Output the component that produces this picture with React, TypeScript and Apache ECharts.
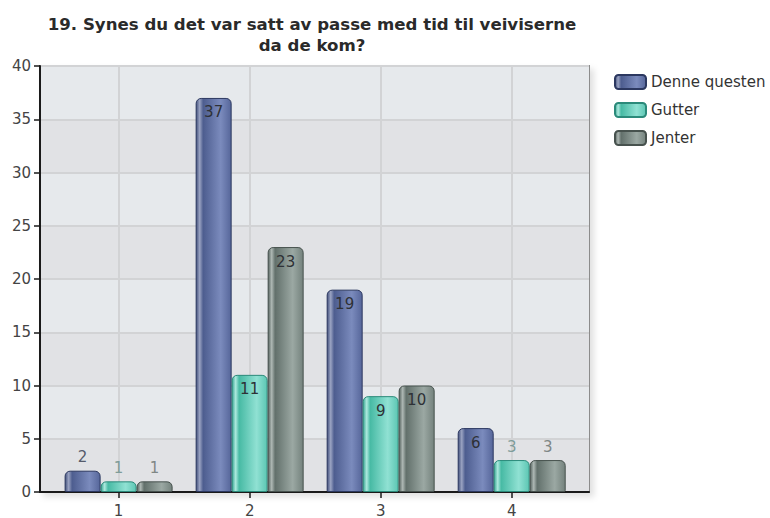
import React, { useEffect, useRef } from "react";
import * as echarts from "echarts";

const TITLE = "19. Synes du det var satt av passe med tid til veiviserne\nda de kom?";
const categories = [1, 2, 3, 4];
const seriesNames = ["Denne questen", "Gutter", "Jenter"];
const denneQuesten = [2, 37, 19, 6];
const gutter = [1, 11, 9, 3];
const jenter = [1, 23, 10, 3];
const yTicks = { min: 0, max: 40, interval: 5 };

const FONT = "DejaVu Sans";

function grad(stops: [number, string][]) {
  return new echarts.graphic.LinearGradient(
    0,
    0,
    1,
    0,
    stops.map(([offset, color]) => ({ offset, color }))
  );
}

const styles = [
  {
    fill: grad([
      [0, "#43517c"],
      [0.1, "#9aa3c2"],
      [0.2, "#4d5d8f"],
      [0.7, "#7b8bbd"],
      [1, "#56669a"],
    ]),
    border: "#2c3860",
    outside: "#555b6b",
  },
  {
    fill: grad([
      [0, "#3aa894"],
      [0.1, "#ade9de"],
      [0.2, "#47baa4"],
      [0.7, "#90e1d3"],
      [1, "#5cc6b3"],
    ]),
    border: "#2b8a7a",
    outside: "#7f9c99",
  },
  {
    fill: grad([
      [0, "#576460"],
      [0.1, "#aeb8b4"],
      [0.2, "#62706b"],
      [0.7, "#9ba8a3"],
      [1, "#74827d"],
    ]),
    border: "#47524e",
    outside: "#7f8785",
  },
];

export default function App() {
  const ref = useRef<HTMLDivElement>(null);

  useEffect(() => {
    document.body.style.margin = "0";
    if (!ref.current) return;
    const chart = echarts.init(ref.current, undefined, { renderer: "svg" });
    const all = [denneQuesten, gutter, jenter];

    const series = all.map((vals, si) => ({
      name: seriesNames[si],
      type: "bar",
      barWidth: 36,
      barGap: "0%",
      itemStyle: {
        color: styles[si].fill,
        borderColor: styles[si].border,
        borderWidth: 1,
        borderRadius: [5, 5, 1, 1],
      },
      data: vals.map((v, i) => ({
        value: [categories[i], v],
        label: {
          show: true,
          position: v >= 5 ? "insideTop" : "top",
          distance: v >= 5 ? 7 : 6,
          color: v >= 5 ? "#2e3136" : styles[si].outside,
          fontFamily: FONT,
          fontSize: 15,
          formatter: () => String(v),
        },
      })),
    }));

    chart.setOption({
      animation: false,
      backgroundColor: "#ffffff",
      title: {
        text: TITLE,
        left: 312,
        top: 14,
        padding: 0,
        textAlign: "center",
        textStyle: {
          fontFamily: FONT,
          fontSize: 16.6,
          fontWeight: "bold",
          color: "#2a2a2a",
          lineHeight: 21,
        },
      },
      legend: {
        orient: "vertical",
        left: 614,
        top: 74,
        padding: 0,
        itemWidth: 31,
        itemHeight: 14,
        itemGap: 12,
        icon: "roundRect",
        textStyle: { fontFamily: FONT, fontSize: 15, color: "#333333" },
        data: seriesNames,
      },
      grid: {
        left: 40,
        top: 66,
        right: 181,
        bottom: 26,
        show: true,
        backgroundColor: "#e4e6ea",
        borderColor: "#8c8c8c",
        borderWidth: 2,
        shadowColor: "rgba(0,0,0,0.12)",
        shadowBlur: 6,
        shadowOffsetX: 4,
        shadowOffsetY: 4,
        outerBoundsMode: "none",
      },
      xAxis: {
        type: "value",
        min: 0.4,
        max: 4.59,
        axisLine: { show: true, lineStyle: { color: "#1a1a1a", width: 2 } },
        axisTick: {
          show: true,
          length: 6,
          customValues: categories,
          lineStyle: { color: "#1a1a1a", width: 1.5 },
        },
        axisLabel: {
          customValues: categories,
          margin: 11,
          fontFamily: FONT,
          fontSize: 15,
          color: "#444444",
        },
        splitLine: { show: true, lineStyle: { color: "#d2d3d5", width: 2 } },
      },
      yAxis: {
        type: "value",
        min: yTicks.min,
        max: yTicks.max,
        interval: yTicks.interval,
        axisLine: { show: true, lineStyle: { color: "#1a1a1a", width: 2 } },
        axisTick: { show: true, length: 6, lineStyle: { color: "#1a1a1a", width: 1.5 } },
        axisLabel: { margin: 9, fontFamily: FONT, fontSize: 15, color: "#444444" },
        splitLine: { show: true, lineStyle: { color: "#d2d3d5", width: 2 } },
        splitArea: { show: true, areaStyle: { color: ["#e1e2e5", "#e6e9ec"] } },
      },
      series,
    });

    return () => chart.dispose();
  }, []);

  return <div ref={ref} style={{ width: 770, height: 518 }} />;
}
